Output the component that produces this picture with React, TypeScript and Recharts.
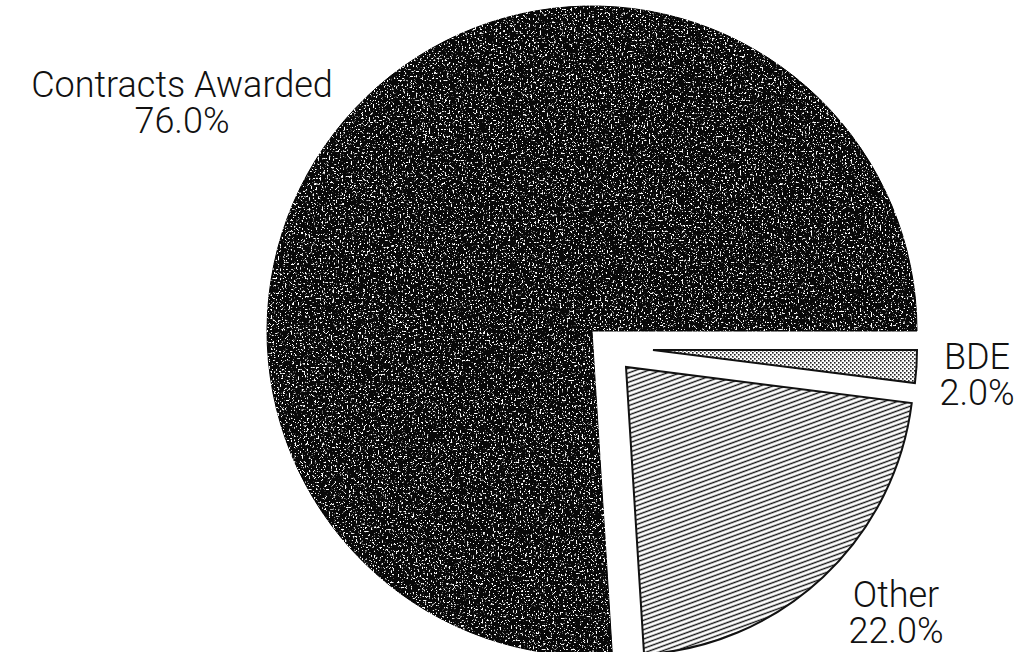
import React from "react";
import { PieChart, Pie, Cell } from "recharts";

// slice names and shares (percent of total)
const categories = ["Contracts Awarded", "Other", "BDE"];
const shares = [76, 22, 2];

const WIDTH = 1022;
const HEIGHT = 652;
const FONT = "Roboto, 'Liberation Sans', Arial, sans-serif";

// each slice is drawn by its own Pie so the small ones can sit pulled out
const SLICE_LAYOUT: Record<string, { cx: number; cy: number; r: number }> = {
  "Contracts Awarded": { cx: 592, cy: 331, r: 325 },
  Other: { cx: 626, cy: 367, r: 288 },
  BDE: { cx: 653, cy: 350, r: 264 },
};

const SLICE_STYLE: Record<string, { fill: string; stroke: string; strokeWidth: number; filter?: string }> = {
  "Contracts Awarded": { fill: "#080808", stroke: "#000", strokeWidth: 1, filter: "url(#speckle)" },
  Other: { fill: "url(#hatch)", stroke: "#111", strokeWidth: 2 },
  BDE: { fill: "url(#dots)", stroke: "#111", strokeWidth: 2 },
};

const LABEL_POS: Record<string, { x: number; y: number }> = {
  "Contracts Awarded": { x: 182, y: 97 },
  Other: { x: 896, y: 607 },
  BDE: { x: 977, y: 369 },
};

const data = categories.map((name, i) => ({ name, value: shares[i] }));

function makeLabel(target: string) {
  return (props: any) => {
    const name = props.payload?.name ?? props.name;
    if (name !== target) return <g key={`lbl-${name}`} />;
    const pos = LABEL_POS[name];
    const pct = `${(props.percent * 100).toFixed(1)}%`;
    return (
      <g key={`lbl-${name}`} fontFamily={FONT} fontSize={36} fontWeight={300} fill="#111">
        <text x={pos.x} y={pos.y} textAnchor="middle">{name}</text>
        <text x={pos.x} y={pos.y + 36} textAnchor="middle">{pct}</text>
      </g>
    );
  };
}

export default function App() {
  return (
    <div style={{ position: "absolute", left: 0, top: 0, width: WIDTH, height: HEIGHT, background: "#fff" }}>
      <PieChart width={WIDTH} height={HEIGHT} margin={{ top: 0, right: 0, bottom: 0, left: 0 }}>
        <defs>
          <filter id="speckle" colorInterpolationFilters="sRGB">
            <feTurbulence type="fractalNoise" baseFrequency="0.55" numOctaves={2} seed={4} result="noise" />
            <feColorMatrix
              in="noise"
              type="matrix"
              values="0 0 0 0 1  0 0 0 0 1  0 0 0 0 1  10 0 0 0 -5.9"
              result="white"
            />
            <feComposite in="white" in2="SourceGraphic" operator="in" result="clipped" />
            <feMerge>
              <feMergeNode in="SourceGraphic" />
              <feMergeNode in="clipped" />
            </feMerge>
          </filter>
          <pattern id="hatch" width="8" height="4.4" patternUnits="userSpaceOnUse" patternTransform="rotate(-20)">
            <rect width="8" height="4.4" fill="#fff" />
            <line x1="0" y1="2.2" x2="8" y2="2.2" stroke="#111" strokeWidth={1.4} />
          </pattern>
          <pattern id="dots" width="4" height="4" patternUnits="userSpaceOnUse">
            <rect width="4" height="4" fill="#fff" />
            <rect x="0" y="0" width="1.6" height="1.6" fill="#222" />
            <rect x="2" y="2" width="1.6" height="1.6" fill="#222" />
          </pattern>
        </defs>
        {categories.map((target) => {
          const lay = SLICE_LAYOUT[target];
          return (
            <Pie
              key={target}
              data={data}
              dataKey="value"
              nameKey="name"
              cx={lay.cx}
              cy={lay.cy}
              innerRadius={0}
              outerRadius={lay.r}
              startAngle={0}
              endAngle={360}
              paddingAngle={0}
              stroke="none"
              label={makeLabel(target)}
              labelLine={false}
              isAnimationActive={false}
            >
              {data.map((d) => {
                if (d.name !== target) return <Cell key={d.name} fill="none" stroke="none" />;
                const s = SLICE_STYLE[d.name];
                return (
                  <Cell
                    key={d.name}
                    fill={s.fill}
                    stroke={s.stroke}
                    strokeWidth={s.strokeWidth}
                    filter={s.filter}
                  />
                );
              })}
            </Pie>
          );
        })}
      </PieChart>
    </div>
  );
}
